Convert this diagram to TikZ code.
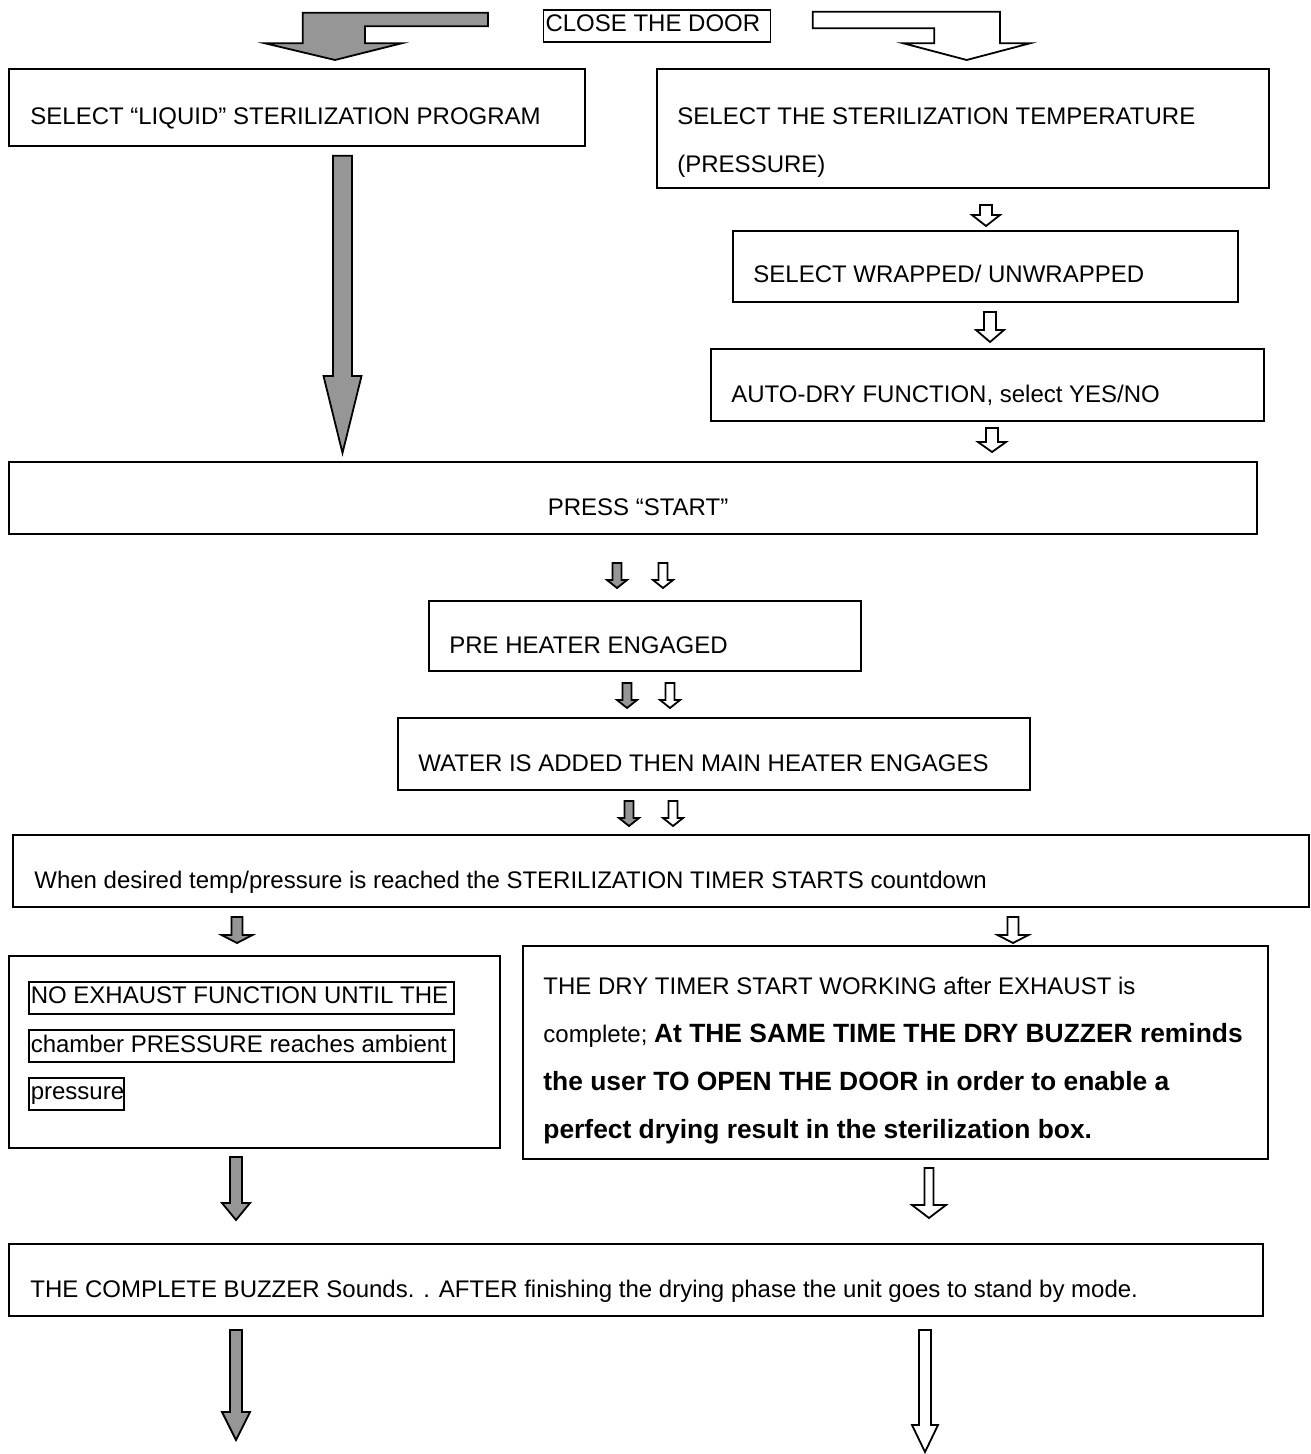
\documentclass[tikz,border=0pt]{standalone}
\usepackage{fontspec}
\setmainfont{Liberation Sans}
\definecolor{arrgray}{RGB}{150,150,150}
\def\px{0.5pt}
\newcommand\varr[7]{\draw[#1] ({#2-#6},#3) -- ({#2+#6},#3) -- ({#2+#6},#4) -- ({#2+#7},#4) -- (#2,#5) -- ({#2-#7},#4) -- ({#2-#6},#4) -- cycle;}
\newcommand\bx[5]{\node[box, minimum width={(#4-#2)*\px}, minimum height={(#5-#3)*\px}] (#1) at (#2,#3) {};}
\newcommand\bigb[1]{{\fontsize{13.2pt}{24pt}\selectfont\bfseries #1}}
\begin{document}
\begin{tikzpicture}[x=0.5pt,y=-0.5pt,
  box/.style={draw, line width=1pt, inner sep=0pt, anchor=north west},
  txt/.style={anchor=base west, inner sep=0pt, align=left, font=\fontsize{12pt}{24pt}\selectfont},
  lbox/.style={draw, line width=0.8pt, inner xsep=1pt, inner ysep=0pt, anchor=north west, font=\fontsize{12pt}{24pt}\selectfont},
  garr/.style={draw, line width=0.9pt, fill=arrgray, line join=miter},
  warr/.style={draw, line width=0.9pt, fill=white, line join=miter}]
\useasboundingbox (0,0) rectangle (1310,1454);
% top
\node[lbox, minimum height=32*\px] (close) at (542.7,9.3) {\makebox[111.5pt][l]{CLOSE THE DOOR\vphantom{Ap}}};
\draw[garr] (488,12.7) -- (302.7,12.7) -- (302.7,43.3) -- (265,43.3) -- (335,60) -- (401.7,43.3) -- (365,43.3) -- (365,26.3) -- (488,26.3) -- cycle;
\draw[warr] (812.7,11.7) -- (1000,11.7) -- (1000,43.3) -- (1030,43.3) -- (966.7,60) -- (903.3,43.3) -- (934.3,43.3) -- (934.3,28.3) -- (812.7,28.3) -- cycle;
% boxes
\bx{bliq}{8}{68}{584}{145}
\bx{btemp}{656}{68}{1268}{187}
\bx{bwrap}{732}{230}{1237}{301}
\bx{bauto}{710}{348}{1263}{420}
\bx{bstart}{8}{461}{1256}{533}
\bx{bpre}{428}{600}{860}{670}
\bx{bwater}{397}{717}{1029}{789}
\bx{bwhen}{12}{834}{1308}{906}
\bx{bnoex}{8}{955}{499}{1147}
\bx{bdry}{522}{945}{1267}{1158}
\bx{bcomp}{8}{1243}{1262}{1315}
% texts
\node[txt] (tliq) at (30,125) {SELECT “LIQUID” STERILIZATION PROGRAM};
\node[txt] (ttemp) at (677,173) {SELECT THE STERILIZATION TEMPERATURE\\(PRESSURE)};
\node[txt] (twrap) at (753,283) {SELECT WRAPPED/ UNWRAPPED};
\node[txt] (tauto) at (731,402) {AUTO-DRY FUNCTION, select YES/NO};
\node[txt, anchor=base] (tstart) at (638,515) {PRESS “START”};
\node[txt] (tpre) at (449,653) {PRE HEATER ENGAGED};
\node[txt] (twater) at (418,771) {WATER IS ADDED THEN MAIN HEATER ENGAGES};
\node[txt] (twhen) at (34,888) {When desired temp/pressure is reached the STERILIZATION TIMER STARTS countdown};
\node[lbox, minimum height=32*\px] (n1) at (28,981) {\makebox[210.5pt][l]{NO EXHAUST FUNCTION UNTIL THE\vphantom{Ap}}};
\node[lbox, minimum height=32*\px] (n2) at (28,1029) {\makebox[210.5pt][l]{chamber PRESSURE reaches ambient\vphantom{Ap}}};
\node[lbox, minimum height=32*\px] (n3) at (28,1077) {\makebox[45.5pt][l]{pressure\vphantom{Ap}}};
\node[txt] (tdry) at (543,1138) {THE DRY TIMER START WORKING after EXHAUST is\\complete; \bigb{At THE SAME TIME THE DRY BUZZER reminds}\\\bigb{the user TO OPEN THE DOOR in order to enable a}\\\bigb{perfect drying result in the sterilization box.}};
\node[txt] (tcomp) at (30,1297) {THE COMPLETE BUZZER Sounds. . AFTER finishing the drying phase the unit goes to stand by mode.};
% arrows
\varr{garr}{342.5}{155.7}{376}{453}{9.5}{19}
\varr{warr}{986}{205}{215}{226}{6}{14}
\varr{warr}{990}{312}{330}{342}{6}{14}
\varr{warr}{992}{428}{442}{452}{6}{14}
\varr{garr}{617}{563}{580}{588}{4.5}{10}
\varr{warr}{663}{563}{580}{588}{4.5}{10}
\varr{garr}{627}{683}{700}{708}{4.5}{10}
\varr{warr}{670}{683}{700}{708}{4.5}{10}
\varr{garr}{629}{801}{818}{826}{4.5}{10}
\varr{warr}{673}{801}{818}{826}{4.5}{10}
\varr{garr}{237}{917}{935}{943}{5.5}{15.5}
\varr{warr}{1013}{917}{935}{943}{5.5}{15.5}
\varr{garr}{236}{1157}{1203}{1220}{6}{14}
\varr{warr}{929}{1168}{1205}{1218}{4.5}{17}
\varr{garr}{236}{1330}{1412}{1440}{6}{14}
\varr{warr}{925}{1330}{1425}{1452}{6}{13}
\end{tikzpicture}
\end{document}
